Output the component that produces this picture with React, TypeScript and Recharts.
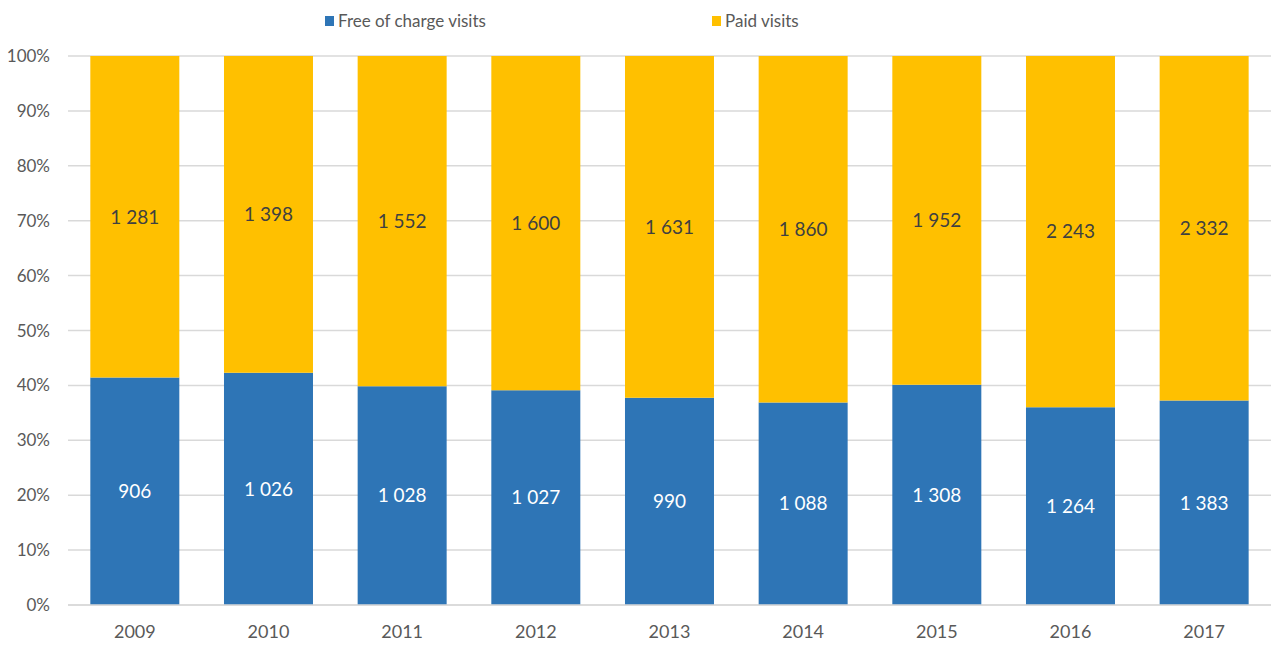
import { BarChart, Bar, XAxis, YAxis, CartesianGrid, LabelList, Legend } from "recharts"

const years = ["2009", "2010", "2011", "2012", "2013", "2014", "2015", "2016", "2017"]
const freeVisits = [906, 1026, 1028, 1027, 990, 1088, 1308, 1264, 1383]
const paidVisits = [1281, 1398, 1552, 1600, 1631, 1860, 1952, 2243, 2332]
const yTicks = [0, 0.1, 0.2, 0.3, 0.4, 0.5, 0.6, 0.7, 0.8, 0.9, 1]

const seriesNames = ["Free of charge visits", "Paid visits"]
const BLUE = "#2E75B6"
const YELLOW = "#FFC000"
const FONT = "Lato, 'Open Sans', sans-serif"

const chartData = years.map((year, i) => ({ year, free: freeVisits[i], paid: paidVisits[i] }))

// 1 281 style thousands separator
const withSpaces = (v: any) => String(v).replace(/\B(?=(\d{3})+(?!\d))/g, " ")

function TopLegend() {
  const items = [
    { name: seriesNames[0], color: BLUE, left: 325 },
    { name: seriesNames[1], color: YELLOW, left: 712 },
  ]
  return (
    <div style={{ position: "relative", height: 30, fontFamily: FONT }}>
      {items.map((it) => (
        <div
          key={it.name}
          style={{ position: "absolute", left: it.left, top: 0, display: "flex", alignItems: "center", height: 30 }}
        >
          <span style={{ width: 9, height: 10, background: it.color, display: "inline-block", marginRight: 4 }} />
          <span style={{ fontSize: 17, color: "#595959", lineHeight: "30px" }}>{it.name}</span>
        </div>
      ))}
    </div>
  )
}

export default function App() {
  return (
    <div style={{ position: "absolute", left: 0, top: 0, width: 1271, height: 646, background: "#fff" }}>
      <BarChart
        width={1271}
        height={646}
        data={chartData}
        stackOffset="expand"
        barCategoryGap="16.7%"
        margin={{ top: 56, right: 0, bottom: 0, left: 0 }}
      >
        <CartesianGrid vertical={false} stroke="#d9d9d9" strokeWidth={1.5} />
        <XAxis
          dataKey="year"
          height={41}
          tickLine={false}
          tickSize={0}
          tickMargin={20}
          axisLine={{ stroke: "#d9d9d9", strokeWidth: 1.5 }}
          tick={{ fill: "#595959", fontSize: 18, fontFamily: FONT }}
        />
        <YAxis
          width={68}
          domain={[0, 1]}
          ticks={yTicks}
          tickFormatter={(v: number) => `${Math.round(v * 100)}%`}
          axisLine={false}
          tickLine={false}
          tickSize={0}
          tickMargin={18}
          tick={{ fill: "#595959", fontSize: 17, fontFamily: FONT }}
        />
        <Legend
          layout="horizontal"
          verticalAlign="middle"
          align="center"
          wrapperStyle={{ top: 6, left: 0, width: 1271 }}
          content={() => <TopLegend />}
        />
        <Bar dataKey="free" name={seriesNames[0]} stackId="a" fill={BLUE} isAnimationActive={false}>
          <LabelList
            dataKey="free"
            position="center"
            formatter={withSpaces}
            fill="#ffffff"
            style={{ fontSize: 19, fontFamily: FONT }}
          />
        </Bar>
        <Bar dataKey="paid" name={seriesNames[1]} stackId="a" fill={YELLOW} isAnimationActive={false}>
          <LabelList
            dataKey="paid"
            position="center"
            formatter={withSpaces}
            fill="#404040"
            style={{ fontSize: 19, fontFamily: FONT }}
          />
        </Bar>
      </BarChart>
    </div>
  )
}
